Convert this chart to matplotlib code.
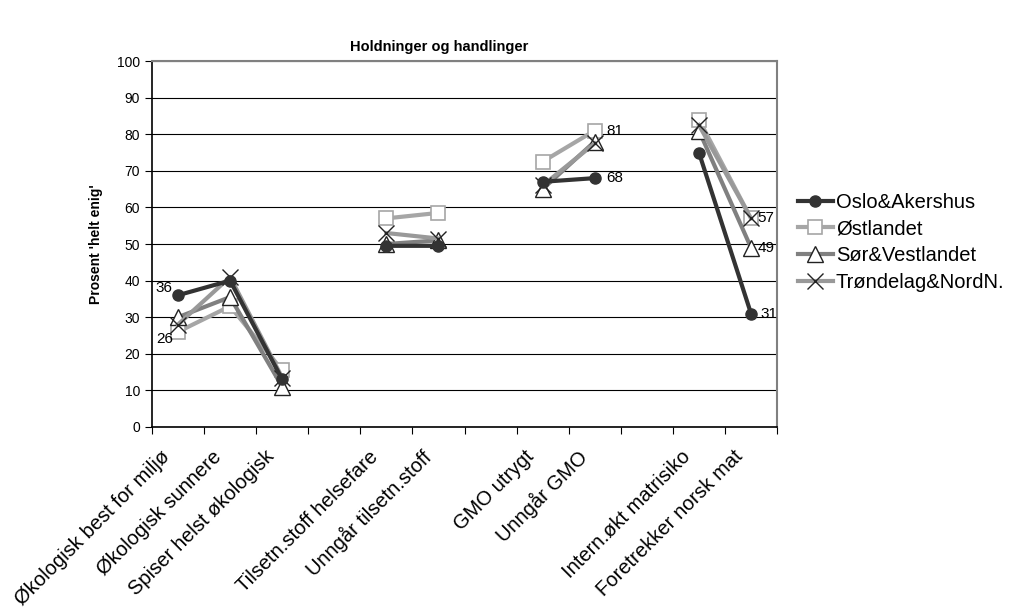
import numpy as np
import matplotlib.pyplot as plt
from matplotlib.transforms import ScaledTranslation

plt.rcParams['font.family'] = ['Liberation Sans', 'DejaVu Sans']

categories = ["Økologisk best for miljø", "Økologisk sunnere", "Spiser helst økologisk", "",
              "Tilsetn.stoff helsefare", "Unngår tilsetn.stoff", "",
              "GMO utrygt", "Unngår GMO", "",
              "Intern.økt matrisiko", "Foretrekker norsk mat"]

nan = np.nan
oslo = [36, 40, 13, nan, 49.5, 49.5, nan, 67, 68, nan, 75, 31]
ostland = [26, 33, 15.5, nan, 57, 58.5, nan, 72.5, 81, nan, 84, 57]
sorvest = [30, 35.5, 11, nan, 50, 51, nan, 65, 78, nan, 81, 49]
trond = [28, 41, 13.5, nan, 53, 51.5, nan, 66, 77.5, nan, 82.5, 57]

fig = plt.figure(figsize=(10.11, 6.15), dpi=100)
ax = fig.add_axes([0.1503, 0.3057, 0.6183, 0.5951])

x = np.arange(len(categories))

ax.plot(x, oslo, color='#333333', lw=3, marker='o', ms=8, mfc='#333333', mec='#333333',
        label='Oslo&Akershus', zorder=5)
ax.plot(x, ostland, color='#a6a6a6', lw=3, marker='s', ms=10, mfc='white', mec='#a6a6a6',
        mew=1.2, label='Østlandet', zorder=3)
ax.plot(x, sorvest, color='#808080', lw=3, marker='^', ms=11, mfc='white', mec='#222222',
        mew=1.0, label='Sør&Vestlandet', zorder=4)
ax.plot(x, trond, color='#999999', lw=3, marker='x', ms=11, mec='#222222',
        mew=1.0, label='Trøndelag&NordN.', zorder=4)

# value labels
ax.text(x[0] - 0.1, oslo[0], "36", ha='right', va='bottom', fontsize=11)
ax.text(x[0] - 0.1, ostland[0], "26", ha='right', va='top', fontsize=11)
ax.text(x[8] + 0.22, ostland[8], "81", ha='left', va='center', fontsize=11)
ax.text(x[8] + 0.22, oslo[8], "68", ha='left', va='center', fontsize=11)
ax.text(x[11] + 0.12, trond[11], "57", ha='left', va='center', fontsize=11)
ax.text(x[11] + 0.12, sorvest[11], "49", ha='left', va='center', fontsize=11)
ax.text(x[11] + 0.18, oslo[11], "31", ha='left', va='center', fontsize=11)

ax.set_xlim(-0.5, len(categories) - 0.5)
ax.set_ylim(0, 100)
ax.set_yticks(np.arange(0, 101, 10))
ax.yaxis.grid(True, color='black', lw=0.8)
ax.set_axisbelow(True)

ax.set_xticks(np.arange(len(categories) + 1) - 0.5)
ax.set_xticklabels([])
ax.set_xticks(x, minor=True)
ax.set_xticklabels(categories, minor=True, rotation=45, ha='right',
                   rotation_mode='anchor', fontsize=14.5)
ax.tick_params(axis='x', which='minor', length=0, pad=10)
ax.tick_params(axis='x', which='major', length=5, direction='out', color='black')
ax.tick_params(axis='y', length=5, labelsize=10)

# nudge the slanted category labels a little left/down
shift = ScaledTranslation(-0.18, -0.06, fig.dpi_scale_trans)
for lab in ax.get_xticklabels(minor=True):
    lab.set_transform(lab.get_transform() + shift)

for side in ['top', 'right']:
    ax.spines[side].set_color('#808080')
    ax.spines[side].set_linewidth(1.5)
for side in ['left', 'bottom']:
    ax.spines[side].set_color('black')
    ax.spines[side].set_linewidth(1.2)

ax.set_ylabel("Prosent 'helt enig'", fontsize=10, fontweight='bold', labelpad=10)
fig.text(0.4347, 0.924, "Holdninger og handlinger", ha='center', va='center',
         fontsize=10.5, fontweight='bold')

ax.legend(loc='center left', bbox_to_anchor=(1.02, 0.505), frameon=False, fontsize=14.5,
          handlelength=1.75, handletextpad=0.15, labelspacing=0.38, borderaxespad=0)

fig.savefig("out.png")
